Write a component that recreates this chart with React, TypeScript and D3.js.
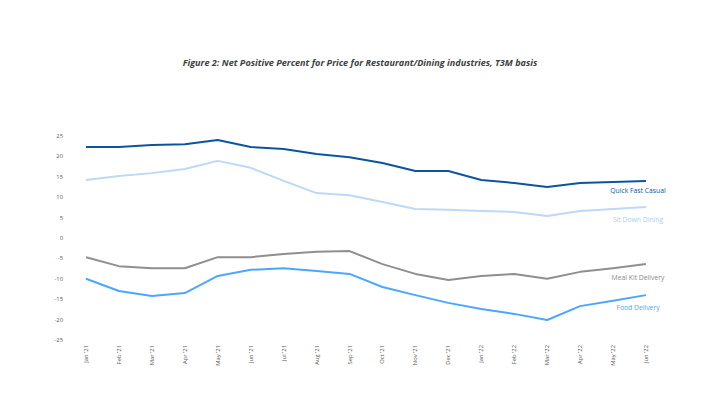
import React from "react";
import * as d3 from "d3";

const months = ["Jan '21","Feb '21","Mar '21","Apr '21","May '21","Jun '21","Jul '21","Aug '21","Sep '21","Oct '21","Nov '21","Dec '21","Jan '22","Feb '22","Mar '22","Apr '22","May '22","Jun '22"];
const quickFastCasual = [22.3,22.3,22.8,23.0,24.0,22.3,21.8,20.6,19.8,18.4,16.4,16.4,14.2,13.5,12.5,13.5,13.7,14.0];
const sitDownDining = [14.2,15.2,15.9,16.9,18.9,17.2,14.0,11.0,10.5,8.8,7.1,6.9,6.6,6.4,5.4,6.6,7.1,7.6];
const mealKitDelivery = [-4.7,-6.9,-7.4,-7.4,-4.7,-4.7,-3.9,-3.4,-3.2,-6.4,-8.8,-10.3,-9.3,-8.8,-10.0,-8.3,-7.4,-6.4];
const foodDelivery = [-10.0,-13.0,-14.2,-13.5,-9.3,-7.8,-7.4,-8.1,-8.8,-12.0,-14.0,-15.9,-17.4,-18.6,-20.1,-16.7,-15.4,-14.0];
const yTicks = [25,20,15,10,5,0,-5,-10,-15,-20,-25];
const seriesNames = ["Quick Fast Casual","Sit Down Dining","Meal Kit Delivery","Food Delivery"];

const series = [
  { name: seriesNames[0], values: quickFastCasual, color: "#0b559f", labelColor: "#0b559f", labelDy: 12.5 },
  { name: seriesNames[1], values: sitDownDining, color: "#bcd9f7", labelColor: "#a9cff7", labelDy: 15.5 },
  { name: seriesNames[2], values: mealKitDelivery, color: "#8f8f8f", labelColor: "#8a8a8a", labelDy: 16 },
  { name: seriesNames[3], values: foodDelivery, color: "#4aa7ff", labelColor: "#4aa7ff", labelDy: 15 },
];

export default function App() {
  const W = 720, H = 405;
  const x = d3.scalePoint<string>().domain(months).range([86, 646]);
  const y = d3.scaleLinear().domain([-25, 25]).range([340, 136]);
  const line = d3.line<number>().x((_, i) => x(months[i])!).y((d) => y(d));
  const font = "'Open Sans', 'Liberation Sans', sans-serif";
  return (
    <svg width={W} height={H} style={{ position: "absolute", left: 0, top: 0, background: "#fff" }}>
      <rect width={W} height={H} fill="#fff" />
      <text x={360} y={66} textAnchor="middle" fontFamily={font} fontSize={9.1} fontStyle="italic" fontWeight="bold" fill="#404040">
        Figure 2: Net Positive Percent for Price for Restaurant/Dining industries, T3M basis
      </text>
      {yTicks.map((t) => (
        <text key={t} x={63} y={y(t)} dy="0.35em" textAnchor="end" fontFamily={font} fontSize={5.8} fill="#595959">{t}</text>
      ))}
      {months.map((m) => (
        <text key={m} transform={`translate(${x(m)! + 2},345) rotate(-90)`} textAnchor="end" fontFamily={font} fontSize={5.8} fill="#595959">{m}</text>
      ))}
      {series.map((s) => (
        <path key={s.name} d={line(s.values)!} fill="none" stroke={s.color} strokeWidth={2} strokeLinejoin="round" />
      ))}
      {series.map((s) => (
        <text key={s.name + "l"} x={638} y={y(s.values[s.values.length - 1]) + s.labelDy} textAnchor="middle" fontFamily={font} fontSize={6.8} fill={s.labelColor}>{s.name}</text>
      ))}
    </svg>
  );
}
